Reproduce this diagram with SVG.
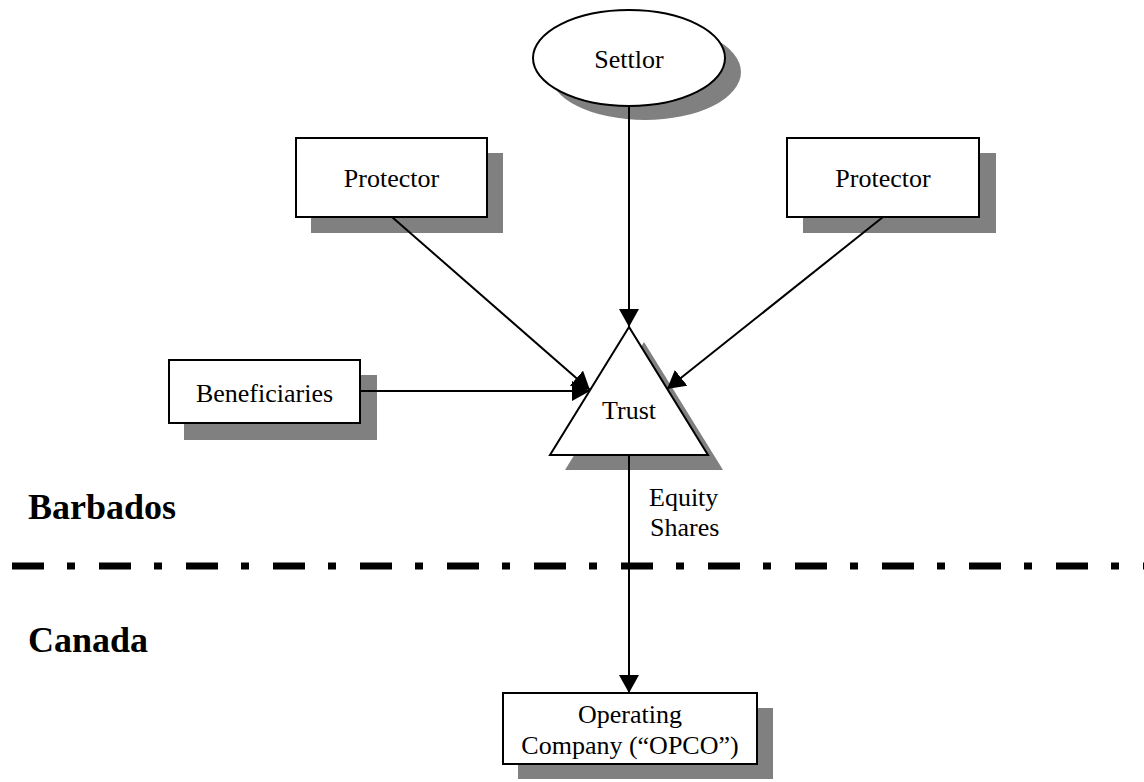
<svg xmlns="http://www.w3.org/2000/svg" width="1144" height="782" viewBox="0 0 1144 782">
<style>
.shadow{fill:#808080;stroke:none}
.box{fill:#ffffff;stroke:#000000;stroke-width:2}
.lbl{font-family:"Liberation Serif","Times New Roman",serif;font-size:26px;fill:#000000}
.region{font-family:"Liberation Serif","Times New Roman",serif;font-size:36px;font-weight:bold;fill:#000000}
.conn{stroke:#000000;stroke-width:2;fill:none;marker-end:url(#arrow)}
</style>
<defs>
<marker id="arrow" markerUnits="userSpaceOnUse" markerWidth="18" markerHeight="20" refX="18" refY="10" orient="auto" viewBox="0 0 18 20">
<path d="M0,0 L18,10 L0,20 Z" fill="#000000"/>
</marker>
</defs>
<rect width="1144" height="782" fill="#ffffff"/>

<g id="settlor">
<ellipse class="shadow" cx="645" cy="72" rx="96" ry="48"/>
<ellipse class="box" cx="629" cy="58" rx="96" ry="48"/>
<text class="lbl" x="629" y="68" text-anchor="middle">Settlor</text>
</g>

<g id="protector-left">
<rect class="shadow" x="311" y="153" width="192" height="80"/>
<rect class="box" x="296" y="138" width="191" height="79"/>
<text class="lbl" x="391.5" y="187" text-anchor="middle">Protector</text>
</g>

<g id="protector-right">
<rect class="shadow" x="803" y="153" width="193" height="80"/>
<rect class="box" x="787" y="138" width="192" height="79"/>
<text class="lbl" x="883" y="187" text-anchor="middle">Protector</text>
</g>

<g id="beneficiaries">
<rect class="shadow" x="184" y="375" width="193" height="65"/>
<rect class="box" x="169" y="360" width="191" height="63"/>
<text class="lbl" x="264.5" y="402" text-anchor="middle">Beneficiaries</text>
</g>

<g id="trust">
<polygon class="shadow" points="644,342 565,470 723,470"/>
<polygon class="box" points="629,327 550,455 708,455"/>
<text class="lbl" x="629" y="419" text-anchor="middle">Trust</text>
</g>

<g id="opco">
<rect class="shadow" x="518" y="708" width="255" height="71"/>
<rect class="box" x="503" y="693" width="254" height="71"/>
<text class="lbl" x="630" y="723" text-anchor="middle">Operating</text>
<text class="lbl" x="630" y="754" text-anchor="middle">Company (“OPCO”)</text>
</g>

<g id="connectors">
<line class="conn" x1="629" y1="106" x2="629" y2="327"/>
<line class="conn" x1="392" y1="217" x2="590" y2="390"/>
<line class="conn" x1="883" y1="217" x2="667" y2="389"/>
<line class="conn" x1="360" y1="391" x2="590" y2="391"/>
<line class="conn" x1="629" y1="455" x2="629" y2="693"/>
</g>

<g id="equity-label">
<text class="lbl" x="649" y="506">Equity</text>
<text class="lbl" x="650" y="536">Shares</text>
</g>

<g id="border">
<line x1="12" y1="566" x2="1144" y2="566" stroke="#000000" stroke-width="7" stroke-dasharray="32 23 8 24"/>
<text class="region" x="28" y="519">Barbados</text>
<text class="region" x="28" y="652">Canada</text>
</g>
</svg>
